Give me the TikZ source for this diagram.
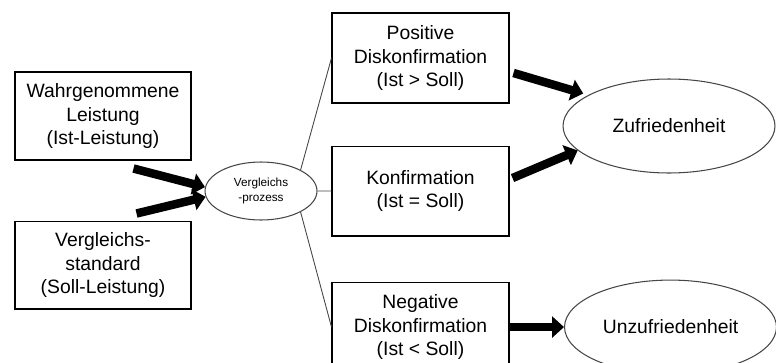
\documentclass[tikz,border=0pt]{standalone}
\usepackage{fontspec}
\setmainfont{Liberation Sans}
\usetikzlibrary{positioning,arrows.meta,calc,shapes.geometric}
\definecolor{LineGray}{RGB}{70,70,70}
\tikzset{
  box/.style={draw=black,line width=0.6pt,fill=white,align=center,
    minimum width=3.54cm,minimum height=1.8cm,inner sep=2pt,
    font=\fontsize{11}{13.4}\selectfont},
  bigoval/.style={ellipse,draw=LineGray,line width=0.6pt,inner sep=0pt,
    minimum width=4.24cm,minimum height=1.88cm,
    font=\fontsize{11}{13.4}\selectfont},
  smalloval/.style={ellipse,draw=LineGray,line width=0.6pt,inner sep=0pt,
    minimum width=2.24cm,minimum height=1.16cm,align=center,
    font=\fontsize{6.7}{8.5}\selectfont},
  link/.style={draw=LineGray,line width=0.5pt},
  fat/.style={line width=0.17cm,draw=black,
    -{Triangle[length=0.24cm,width=0.42cm]}}
}
\begin{document}
\begin{tikzpicture}[x=0.02cm,y=-0.02cm]
  \useasboundingbox (0,0) rectangle (776,362);

  % left column
  \node[box,minimum width=3.52cm,minimum height=1.76cm] (leistung) at (103,116) {Wahrgenommene\\Leistung\\(Ist-Leistung)};
  \node[box,minimum width=3.52cm,minimum height=1.76cm,below=1.2cm of leistung] (standard) {Vergleichs-\\standard\\(Soll-Leistung)};
  \node[smalloval] (prozess) at (261,191) {Vergleichs\\-prozess};

  % middle column
  \node[box] (positiv) at (420.5,58) {Positive\\Diskonfirmation\\(Ist > Soll)};
  \node[box,below=0.84cm of positiv] (konf) {Konfirmation\\(Ist = Soll)};
  \node[box,below=0.9cm of konf] (negativ) {Negative\\Diskonfirmation\\(Ist < Soll)};

  % right column
  \node[bigoval] (zufrieden) at (669,126) {Zufriedenheit};
  \node[bigoval,right=1.09cm of negativ] (unzufrieden) {Unzufriedenheit};

  \draw[fat] ([shift={(-58,8)}]leistung.south east) -- (prozess.176);
  \draw[fat] ([shift={(-55,-7)}]standard.north east) -- (prozess.186);

  \draw[link] (prozess.28) -- (positiv.west);
  \draw[link] (prozess.east) -- (konf.west);
  \draw[link] (prozess.-28) -- (negativ.west);

  \draw[fat,shorten >=3pt] ([shift={(4,15)}]positiv.east) -- (zufrieden.159);
  \draw[fat] ([shift={(3,-13)}]konf.east) -- (zufrieden.195);
  \draw[fat] (negativ) -- (unzufrieden);
\end{tikzpicture}
\end{document}
